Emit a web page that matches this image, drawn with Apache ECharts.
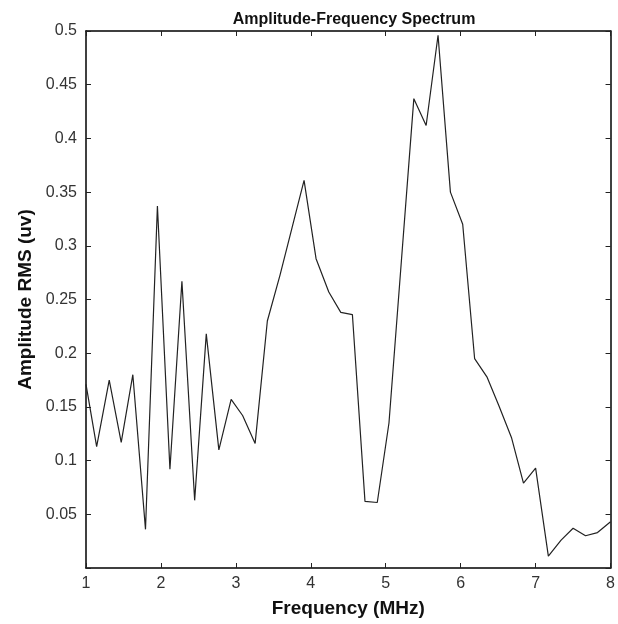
<!DOCTYPE html>
<html>
<head>
<meta charset="utf-8">
<script src="https://cdn.jsdelivr.net/npm/echarts@6/dist/echarts.min.js"></script>
<style>
html,body{margin:0;padding:0;background:#fff;}
#chart{width:618px;height:624px;}
</style>
</head>
<body>
<div id="chart"></div>
<script>
const frequencies = [1, 1.142, 1.31, 1.47, 1.625, 1.794, 1.953, 2.12, 2.28, 2.45, 2.605, 2.773, 2.937, 3.09, 3.257, 3.42, 3.59, 3.75, 3.91, 4.07, 4.24, 4.40, 4.555, 4.723, 4.887, 5.043, 5.21, 5.375, 5.539, 5.698, 5.863, 6.027, 6.186, 6.35, 6.51, 6.68, 6.838, 7.0, 7.17, 7.34, 7.50, 7.666, 7.826, 8.0];
const amplitudes = [0.171, 0.113, 0.175, 0.117, 0.180, 0.036, 0.337, 0.092, 0.267, 0.063, 0.218, 0.110, 0.157, 0.142, 0.116, 0.230, 0.273, 0.317, 0.361, 0.288, 0.257, 0.238, 0.236, 0.062, 0.061, 0.135, 0.287, 0.437, 0.412, 0.496, 0.350, 0.320, 0.195, 0.178, 0.151, 0.121, 0.079, 0.093, 0.011, 0.026, 0.037, 0.030, 0.033, 0.043];
const titleText = 'Amplitude-Frequency Spectrum';
const xName = 'Frequency (MHz)';
const yName = 'Amplitude RMS (uv)';

const FONT = '"Liberation Sans", Arial, Helvetica, sans-serif';
const chart = echarts.init(document.getElementById('chart'), null, {renderer: 'canvas'});
const axisLineStyle = {color: '#000', width: 1.5};
const tickStyle = {show: true, inside: true, length: 5, lineStyle: {color: '#222', width: 1}};

const option = {
  animation: false,
  backgroundColor: '#fff',
  title: {
    text: titleText,
    left: 349, top: 7, textAlign: 'center',
    textStyle: {fontFamily: FONT, fontSize: 16, fontWeight: 'bold', color: '#111'}
  },
  grid: {left: 86, right: 6, top: 31, bottom: 56, containLabel: false},
  xAxis: [{
    type: 'value', min: 1, max: 8, interval: 1,
    name: xName, nameLocation: 'middle', nameGap: 31,
    nameTextStyle: {fontFamily: FONT, fontSize: 19, fontWeight: 'bold', color: '#111'},
    axisLine: {show: true, onZero: false, lineStyle: axisLineStyle},
    axisTick: tickStyle,
    axisLabel: {fontFamily: FONT, fontSize: 16, color: '#333', margin: 8},
    splitLine: {show: false}
  }, {
    type: 'value', min: 1, max: 8, interval: 1, position: 'top',
    axisLine: {show: true, onZero: false, lineStyle: axisLineStyle},
    axisTick: tickStyle, axisLabel: {show: false}, splitLine: {show: false}
  }],
  yAxis: [{
    type: 'value', min: 0, max: 0.5, interval: 0.05,
    name: yName, nameLocation: 'middle', nameGap: 48, nameRotate: 90,
    nameTextStyle: {fontFamily: FONT, fontSize: 19, fontWeight: 'bold', color: '#111'},
    axisLine: {show: true, onZero: false, lineStyle: axisLineStyle},
    axisTick: tickStyle,
    axisLabel: {
      fontFamily: FONT, fontSize: 16, color: '#333', margin: 9,
      formatter: function (v) { if (Math.abs(v) < 1e-9) return ''; return String(parseFloat(v.toFixed(2))); }
    },
    splitLine: {show: false}
  }, {
    type: 'value', min: 0, max: 0.5, interval: 0.05, position: 'right',
    axisLine: {show: true, onZero: false, lineStyle: axisLineStyle},
    axisTick: tickStyle, axisLabel: {show: false}, splitLine: {show: false}
  }],
  series: [{
    type: 'line',
    xAxisIndex: 0, yAxisIndex: 0,
    data: frequencies.map((f, i) => [f, amplitudes[i]]),
    showSymbol: false, symbol: 'none',
    lineStyle: {color: '#222', width: 1.2},
    clip: true
  }]
};
chart.setOption(option);
</script>
</body>
</html>
